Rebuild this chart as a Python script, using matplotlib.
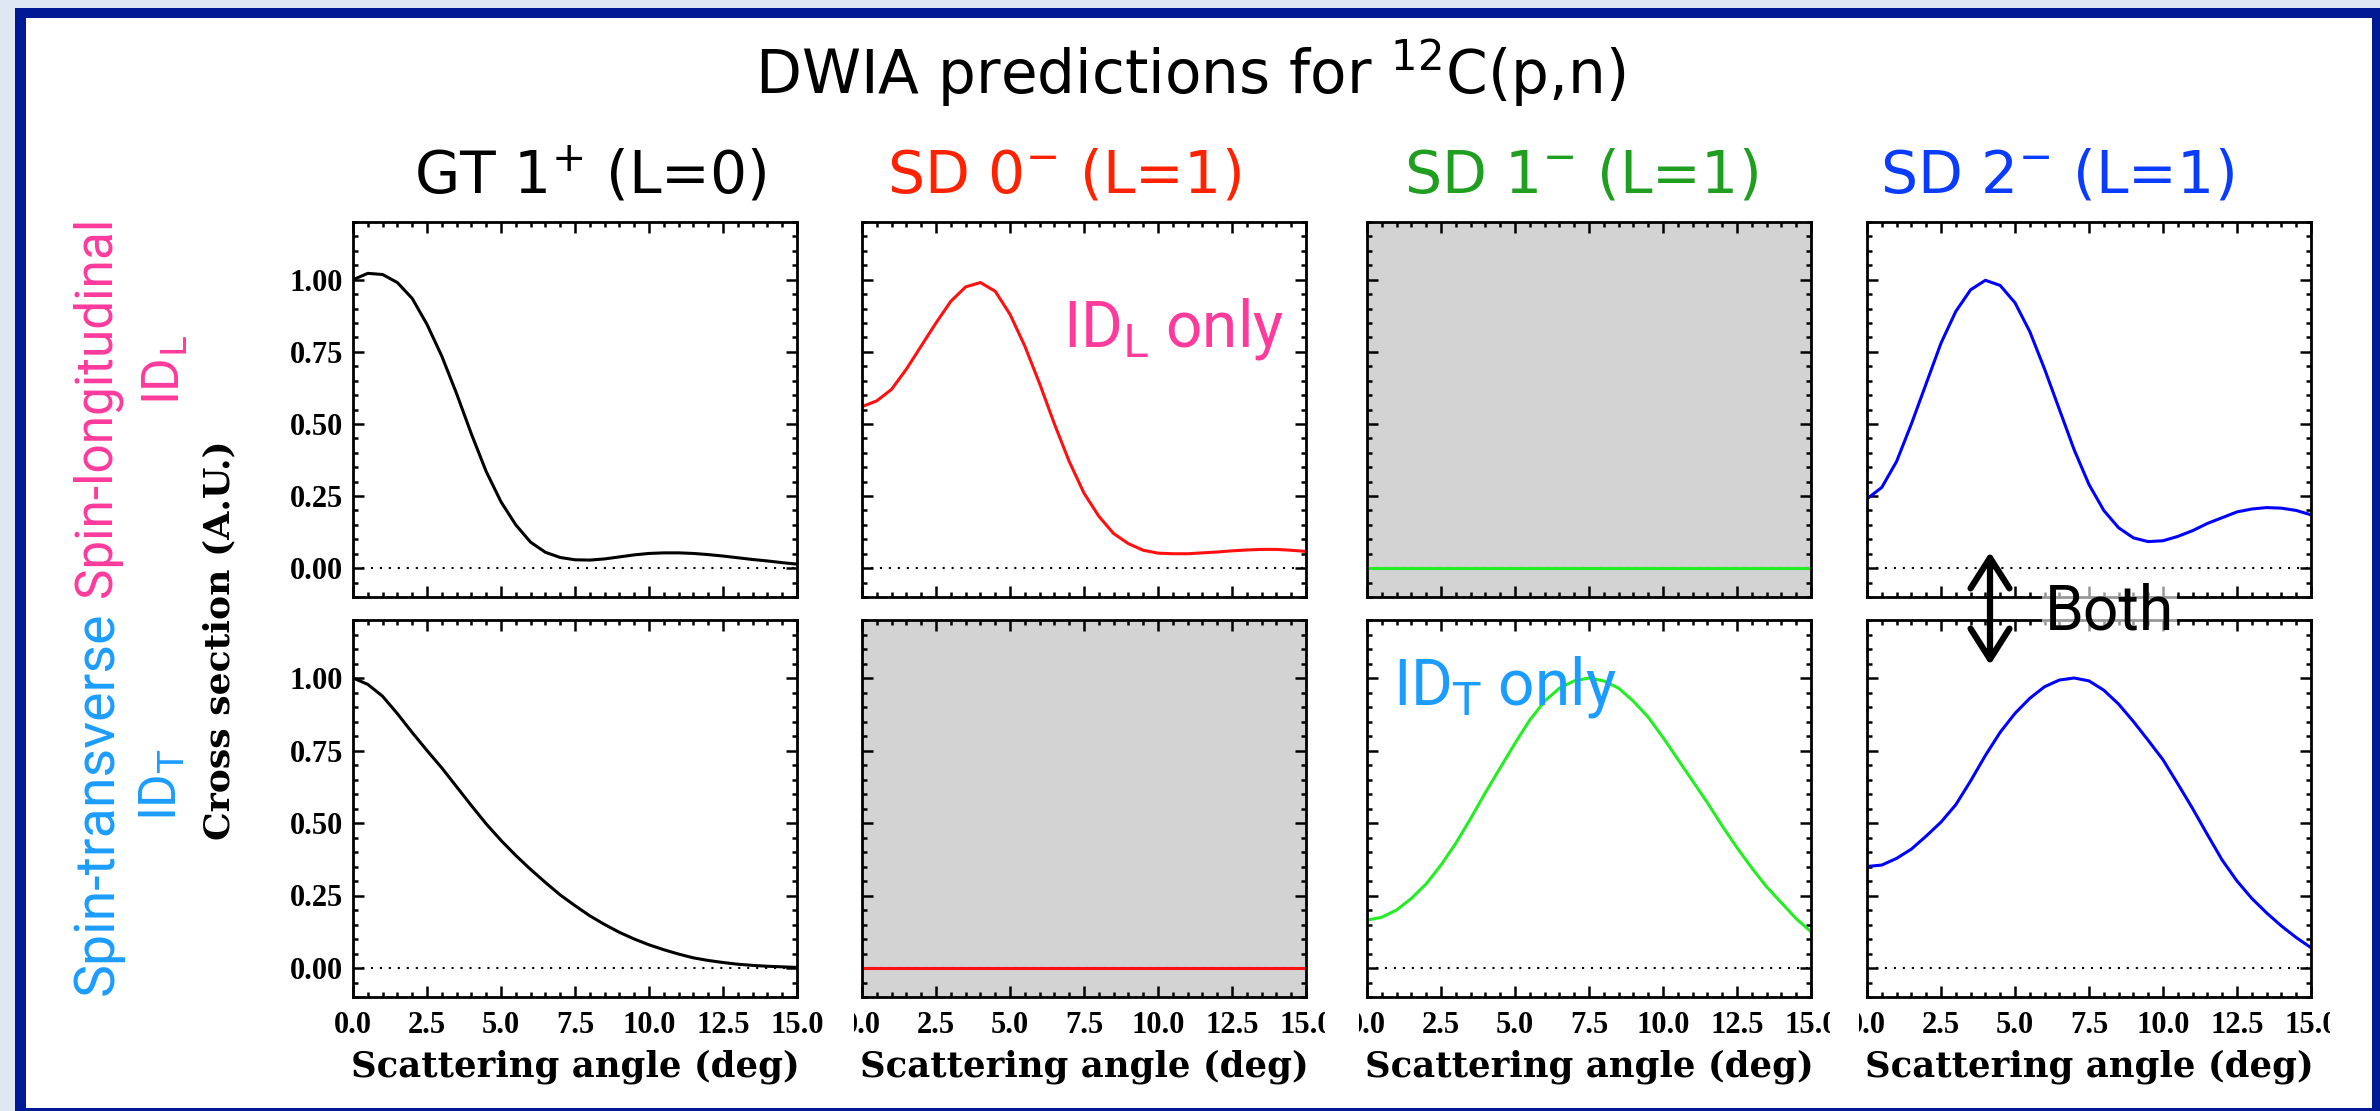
import matplotlib
matplotlib.use('Agg')
import matplotlib.pyplot as plt
from matplotlib.patches import Rectangle, FancyArrowPatch
from matplotlib.ticker import MultipleLocator, FixedLocator, FixedFormatter
from matplotlib.transforms import Bbox, TransformedBbox

plt.rcParams['font.family'] = ['DejaVu Sans']
plt.rcParams['mathtext.fontset'] = 'dejavusans'

# ---------------- data ----------------
angle = [0.0, 0.5, 1.0, 1.5, 2.0, 2.5, 3.0, 3.5, 4.0, 4.5, 5.0, 5.5, 6.0, 6.5, 7.0, 7.5,
         8.0, 8.5, 9.0, 9.5, 10.0, 10.5, 11.0, 11.5, 12.0, 12.5, 13.0, 13.5, 14.0, 14.5, 15.0]

gt_long = [1.000, 1.022, 1.018, 0.990, 0.935, 0.845, 0.735, 0.605, 0.465, 0.335, 0.230,
           0.150, 0.090, 0.055, 0.037, 0.029, 0.028, 0.032, 0.039, 0.046, 0.051, 0.053,
           0.053, 0.051, 0.047, 0.042, 0.036, 0.030, 0.025, 0.019, 0.014]
gt_trans = [1.000, 0.978, 0.937, 0.877, 0.812, 0.750, 0.690, 0.625, 0.560, 0.497, 0.440,
            0.388, 0.340, 0.295, 0.252, 0.215, 0.180, 0.150, 0.123, 0.100, 0.080, 0.063,
            0.048, 0.035, 0.026, 0.019, 0.013, 0.009, 0.006, 0.004, 0.002]
sd0_long = [0.560, 0.580, 0.620, 0.690, 0.770, 0.850, 0.925, 0.975, 0.990, 0.960, 0.880,
            0.770, 0.640, 0.500, 0.370, 0.260, 0.180, 0.120, 0.085, 0.062, 0.052, 0.050,
            0.050, 0.053, 0.056, 0.060, 0.063, 0.065, 0.065, 0.062, 0.058]
sd1_trans = [0.165, 0.175, 0.200, 0.240, 0.290, 0.355, 0.430, 0.515, 0.605, 0.690, 0.775,
             0.855, 0.920, 0.965, 0.990, 1.000, 0.990, 0.965, 0.920, 0.865, 0.795, 0.720,
             0.645, 0.570, 0.490, 0.415, 0.345, 0.280, 0.225, 0.170, 0.125]
sd2_long = [0.240, 0.280, 0.370, 0.500, 0.640, 0.780, 0.890, 0.965, 0.998, 0.980, 0.920,
            0.820, 0.690, 0.550, 0.410, 0.290, 0.200, 0.140, 0.105, 0.092, 0.095, 0.110,
            0.130, 0.155, 0.175, 0.195, 0.205, 0.210, 0.208, 0.200, 0.185]
sd2_trans = [0.350, 0.355, 0.378, 0.410, 0.455, 0.503, 0.563, 0.645, 0.733, 0.813, 0.878,
             0.930, 0.970, 0.993, 1.000, 0.990, 0.958, 0.910, 0.850, 0.785, 0.718, 0.635,
             0.550, 0.460, 0.372, 0.300, 0.240, 0.190, 0.145, 0.105, 0.070]
# forbidden components (zero everywhere)
zero_angle = [0.0, 15.0]
zero_vals = [0.0, 0.0]

col_titles = [r'GT 1$^{+}$ (L=0)', r'SD 0$^{-}$ (L=1)', r'SD 1$^{-}$ (L=1)', r'SD 2$^{-}$ (L=1)']
title_colors = ['#000000', '#ff2200', '#1f9e1f', '#0a3cff']
curve_colors = ['#000000', '#ff1010', '#22ee22', '#0000ff']
xtick_vals = [0.0, 2.5, 5.0, 7.5, 10.0, 12.5, 15.0]
xtick_labels = ['0.0', '2.5', '5.0', '7.5', '10.0', '12.5', '15.0']
ytick_vals = [0.0, 0.25, 0.5, 0.75, 1.0]
ytick_labels = ['0.00', '0.25', '0.50', '0.75', '1.00']

# (row, col) -> (x, y, shaded)
panels = {
    (0, 0): (angle, gt_long, False),
    (1, 0): (angle, gt_trans, False),
    (0, 1): (angle, sd0_long, False),
    (1, 1): (zero_angle, zero_vals, True),
    (0, 2): (zero_angle, zero_vals, True),
    (1, 2): (angle, sd1_trans, False),
    (0, 3): (angle, sd2_long, False),
    (1, 3): (angle, sd2_trans, False),
}

# ---------------- layout ----------------
W, H = 2380, 1111
fig = plt.figure(figsize=(W / 100, H / 100), dpi=100)
fig.patch.set_facecolor('#dfe7f3')

def fx(px):
    return px / W

def fy(py):
    return 1 - py / H

fig.add_artist(Rectangle((fx(15), 0), 1 - fx(15), fy(8), transform=fig.transFigure,
                         facecolor='#001a96', edgecolor='none', zorder=-10))
fig.add_artist(Rectangle((fx(26), fy(1108)), fx(2372) - fx(26), fy(18) - fy(1108),
                         transform=fig.transFigure, facecolor='white', edgecolor='none', zorder=-9))

col_left = [353, 862, 1367, 1867]
col_w = 444
row_top = [222, 620]
row_h = [375, 377]

tickfont = 'Liberation Serif'
labelfont = 'DejaVu Serif'
for (r, c), (xs, ys, shaded) in panels.items():
    ax = fig.add_axes([fx(col_left[c]), fy(row_top[r] + row_h[r]), col_w / W, row_h[r] / H])
    ax.set_xlim(0, 15)
    ax.set_ylim(-0.1, 1.2)
    if shaded:
        ax.set_facecolor('#d3d3d3')
    ax.axhline(0, color='k', lw=1.5, ls=(0, (1, 3.3)), zorder=1)
    ax.plot(xs, ys, color=curve_colors[c], lw=2.2, zorder=2, solid_joinstyle='round')
    for s in ax.spines.values():
        s.set_linewidth(2.0)
    ax.xaxis.set_major_locator(FixedLocator(xtick_vals))
    ax.xaxis.set_minor_locator(MultipleLocator(0.5))
    ax.yaxis.set_major_locator(FixedLocator(ytick_vals))
    ax.yaxis.set_minor_locator(MultipleLocator(0.05))
    ax.tick_params(which='both', direction='in', top=True, right=True, width=1.8)
    ax.tick_params(which='major', length=8)
    ax.tick_params(which='minor', length=3.5)
    ax.tick_params(axis='x', pad=10)
    ax.tick_params(axis='y', pad=7)
    if r == 1:
        ax.xaxis.set_major_formatter(FixedFormatter(xtick_labels))
        for lab in ax.get_xticklabels():
            lab.set_fontfamily(tickfont)
            lab.set_fontweight('bold')
            lab.set_fontsize(22)
        if c > 0:
            clip = TransformedBbox(Bbox.from_extents(fx(col_left[c] - 8), 0,
                                                     fx(col_left[c] + col_w + 19), 1),
                                   fig.transFigure)
            for t in ax.xaxis.get_major_ticks():
                t.label1.set_clip_on(True)
                t.label1.set_clip_box(clip)
        fig.text(fx(col_left[c] + col_w / 2), fy(1077), 'Scattering angle (deg)',
                 ha='center', va='baseline', family=labelfont, fontweight='bold', fontsize=25.5)
    else:
        ax.set_xticklabels([])
    if c == 0:
        ax.yaxis.set_major_formatter(FixedFormatter(ytick_labels))
        for lab in ax.get_yticklabels():
            lab.set_fontfamily(tickfont)
            lab.set_fontweight('bold')
            lab.set_fontsize(22)
    else:
        ax.set_yticklabels([])

# ---------------- texts ----------------
pink = '#ff3a9d'
cyan = '#1b9dff'
fig.text(fx(1190), fy(94), r'DWIA predictions for $^{12}$C(p,n)', ha='center', va='baseline',
         fontsize=43, color='black')
col_centers = [590, 1064, 1581, 2057]
for c in range(4):
    fig.text(fx(col_centers[c]), fy(193), col_titles[c], ha='center', va='baseline',
             fontsize=42, color=title_colors[c])

fig.text(fx(219), fy(640), 'Cross section (A.U.)', rotation=90, ha='center', va='center',
         family=labelfont, fontweight='bold', fontsize=26)

fig.text(fx(97), fy(217), 'Spin-longitudinal', rotation=90, ha='center', va='top',
         color=pink, fontsize=37, family='Roboto')
fig.text(fx(97), fy(995), 'Spin-transverse', rotation=90, ha='center', va='bottom',
         color=cyan, fontsize=40, family='Roboto')
fig.text(fx(166), fy(370), r'ID$_\mathrm{L}$', rotation=90, ha='center', va='center',
         color=pink, fontsize=37, family='Roboto')
fig.text(fx(163), fy(785), r'ID$_\mathrm{T}$', rotation=90, ha='center', va='center',
         color=cyan, fontsize=37, family='Roboto')

fig.text(fx(1063), fy(346), r'ID$_\mathrm{L}$ only', ha='left', va='baseline',
         color=pink, fontsize=46, zorder=6, family='Roboto')
fig.text(fx(1393), fy(704), r'ID$_\mathrm{T}$ only', ha='left', va='baseline',
         color=cyan, fontsize=46, zorder=6, family='Roboto')

fig.text(fx(2045), fy(630), 'Both', ha='left', va='baseline', color='black', fontsize=45,
         zorder=6, family='Roboto',
         bbox=dict(boxstyle='square,pad=0.05', fc='white', ec='none', alpha=0.6))
fig.add_artist(FancyArrowPatch((fx(1990), fy(552)), (fx(1990), fy(665)),
                               transform=fig.transFigure,
                               arrowstyle='<->,head_length=1.1,head_width=0.7',
                               mutation_scale=20, lw=4.5, color='black',
                               shrinkA=0, shrinkB=0, zorder=7))

fig.savefig('out.png', dpi=100, facecolor=fig.get_facecolor())
